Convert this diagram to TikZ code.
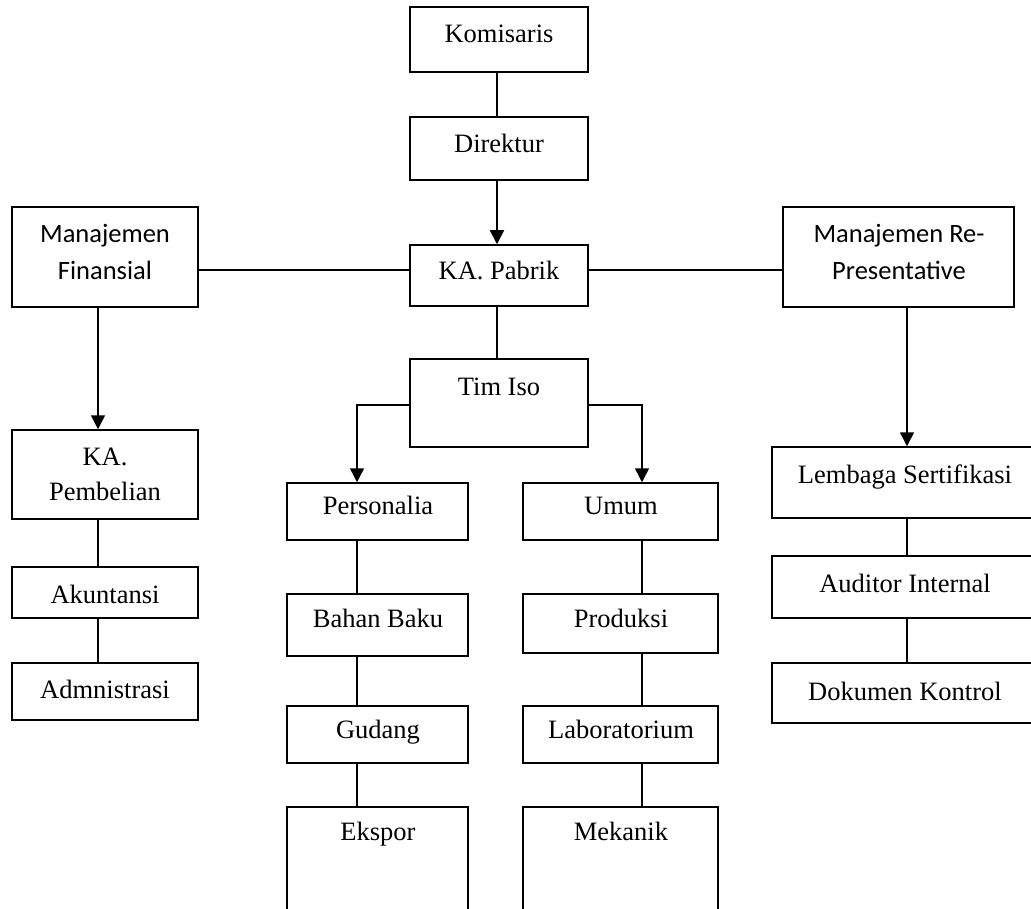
\documentclass[tikz,border=0pt]{standalone}
\usepackage{fontspec}
\setmainfont{Liberation Serif}
\newfontfamily\calib{Carlito}
\usetikzlibrary{fit,arrows.meta}
\tikzset{
  box/.style={draw, line width=1.5pt, inner sep=0pt, rectangle},
  txt/.style={inner sep=0pt, anchor=base, font=\fontsize{26.5}{36}\selectfont},
  ctxt/.style={txt, font=\calib\fontsize{26.5}{37}\selectfont},
  conn/.style={line width=1.5pt},
  arr/.style={line width=1.5pt, -{Triangle[length=14pt,width=14pt]}}
}
\begin{document}
\begin{tikzpicture}[x=1pt,y=-1pt]
\useasboundingbox (0,0) rectangle (1031,909);
\clip (0,0) rectangle (1031,909);
% named x positions for connectors
\coordinate (cTop) at (497,0);
\coordinate (cF) at (98,0);
\coordinate (cL) at (357,0);
\coordinate (cR) at (642,0);
\coordinate (cM) at (907,0);
% boxes
\node[box, fit={(410,7) (588,72)}] (kom) {};
\node[box, fit={(410,117) (588,180)}] (dir) {};
\node[box, fit={(410,245) (588,306)}] (kp) {};
\node[box, fit={(12,207) (198,307)}] (mf) {};
\node[box, fit={(783,207) (1014,307)}] (mr) {};
\node[box, fit={(410,359) (588,447)}] (tim) {};
\node[box, fit={(287,483) (468,540)}] (per) {};
\node[box, fit={(287,594) (468,656)}] (bb) {};
\node[box, fit={(287,706) (468,763)}] (gud) {};
\node[box, fit={(287,807) (468,930)}] (eks) {};
\node[box, fit={(523,483) (718,540)}] (umum) {};
\node[box, fit={(523,594) (718,653)}] (prod) {};
\node[box, fit={(523,706) (718,763)}] (lab) {};
\node[box, fit={(523,807) (718,930)}] (mek) {};
\node[box, fit={(12,430) (198,519)}] (kpb) {};
\node[box, fit={(12,567) (198,618)}] (aku) {};
\node[box, fit={(12,663) (198,720)}] (adm) {};
\node[box, fit={(772,447) (1038,518)}] (lem) {};
\node[box, fit={(772,556) (1038,618)}] (aud) {};
\node[box, fit={(772,663) (1038,723)}] (dok) {};
% texts
\node[txt] (t-kom) at (499,43) {Komisaris};
\node[txt] (t-dir) at (499,153) {Direktur};
\node[txt] (t-kp) at (499,280) {KA. Pabrik};
\node[ctxt] (t-mf1) at (105,243) {Manajemen};
\node[ctxt] (t-mf2) at (105,280) {Finansial};
\node[ctxt] (t-mr1) at (899,243) {Manajemen Re-};
\node[ctxt] (t-mr2) at (899,280) {Presentative};
\node[txt] (t-tim) at (499,395) {Tim Iso};
\node[txt] (t-per) at (378,514) {Personalia};
\node[txt] (t-bb) at (378,627) {Bahan Baku};
\node[txt] (t-gud) at (378,738) {Gudang};
\node[txt] (t-eks) at (378,840) {Ekspor};
\node[txt] (t-umum) at (621,514) {Umum};
\node[txt] (t-prod) at (621,627) {Produksi};
\node[txt] (t-lab) at (621,738) {Laboratorium};
\node[txt] (t-mek) at (621,840) {Mekanik};
\node[txt] (t-kpb1) at (105,465) {KA.};
\node[txt] (t-kpb2) at (105,500) {Pembelian};
\node[txt] (t-aku) at (105,603) {Akuntansi};
\node[txt] (t-adm) at (105,698) {Admnistrasi};
\node[txt] (t-lem) at (905,483) {Lembaga Sertifikasi};
\node[txt] (t-aud) at (905,592) {Auditor Internal};
\node[txt] (t-dok) at (905,700) {Dokumen Kontrol};
% connectors
\draw[conn] (kom.south -| cTop) -- (dir.north -| cTop);
\draw[arr] (dir.south -| cTop) -- (kp.north -| cTop);
\coordinate (hY) at (0,270);
\draw[conn] (mf.east |- hY) -- (kp.west |- hY);
\draw[conn] (kp.east |- hY) -- (mr.west |- hY);
\draw[conn] (kp.south -| cTop) -- (tim.north -| cTop);
\coordinate (tY) at (0,405);
\draw[arr] (tim.west |- tY) -| (per.north -| cL);
\draw[arr] (tim.east |- tY) -| (umum.north -| cR);
\draw[conn] (per.south -| cL) -- (bb.north -| cL);
\draw[conn] (bb.south -| cL) -- (gud.north -| cL);
\draw[conn] (gud.south -| cL) -- (eks.north -| cL);
\draw[conn] (umum.south -| cR) -- (prod.north -| cR);
\draw[conn] (prod.south -| cR) -- (lab.north -| cR);
\draw[conn] (lab.south -| cR) -- (mek.north -| cR);
\draw[arr] (mf.south -| cF) -- (kpb.north -| cF);
\draw[conn] (kpb.south -| cF) -- (aku.north -| cF);
\draw[conn] (aku.south -| cF) -- (adm.north -| cF);
\draw[arr] (mr.south -| cM) -- (lem.north -| cM);
\draw[conn] (lem.south -| cM) -- (aud.north -| cM);
\draw[conn] (aud.south -| cM) -- (dok.north -| cM);
\end{tikzpicture}
\end{document}
